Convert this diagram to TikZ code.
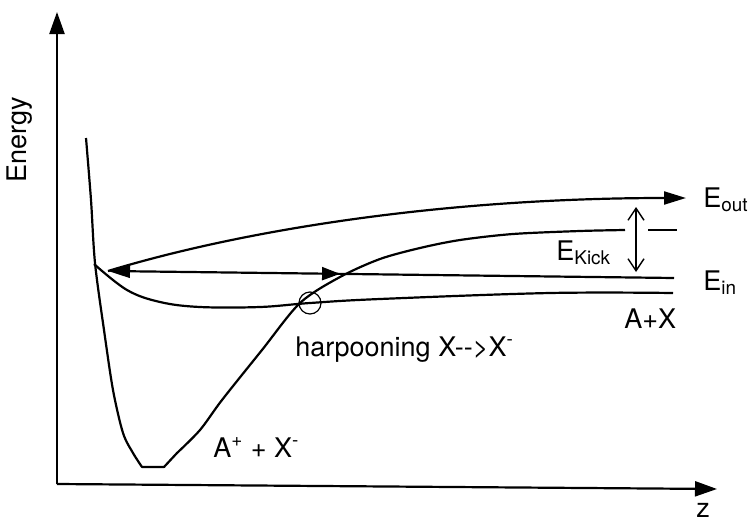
\documentclass[tikz,border=0pt]{standalone}
\usepackage{fontspec}
\setmainfont{TeX Gyre Heros}
\usetikzlibrary{arrows.meta,decorations.markings}

\begin{document}
\begin{tikzpicture}[
    x=0.5pt, y=-0.5pt,
    curve/.style={line width=1.1pt, line join=round},
    axis/.style={line width=1.1pt, -{Triangle[length=11pt,width=7.5pt]}},
    bighead/.style={-{Triangle[length=11pt,width=6.5pt]}},
    kick/.style={line width=0.7pt, {Straight Barb[length=6pt,width=8pt]}-{Straight Barb[length=6pt,width=8pt]}},
    midhead/.style={postaction={decorate}, decoration={markings,
        mark=at position #1 with {\arrow{Triangle[length=9pt,width=6.5pt]}}}},
    lbl/.style={font=\fontsize{13.5}{16}\selectfont, inner sep=0pt}
]
\useasboundingbox (0,0) rectangle (750,520);

% axes
\coordinate (origin) at (57,484);
\coordinate (ytip) at (57,12);
\coordinate (xtip) at (717,489);
\draw[axis] (origin) -- (ytip);
\draw[axis] (origin) -- (xtip);
\node[lbl, rotate=90] (energy) at (20,140) {Energy};
\node[lbl] (zlabel) at (703,510) {z};

% ionic curve A+ + X-
\draw[curve] plot[smooth, tension=0.5] coordinates {(86,138) (91,200) (95,263) (104,330) (113,390) (123,433) (133,453) (142,467)}
    -- (164,467)
    -- plot[smooth, tension=0.5] coordinates {(177,453) (200,430) (222,400) (262,350) (300,303) (340,277) (380,259) (420,248) (460,240) (513,234) (580,231) (625,230)};
\draw[curve] (648,230) -- (677,230);

% covalent curve A+X
\draw[curve] plot[smooth, tension=0.6] coordinates {(94,264) (127,290) (160,302) (200,307) (260,307) (310,303) (380,299) (550,293) (673,293)};

% trajectory
\coordinate (turn) at (108,271);
\coordinate (ein) at (674,278);
\coordinate (eout) at (686,198);
\draw[curve, {Triangle[length=11pt,width=6.5pt]}-, midhead=0.41] (turn) -- (ein);
\draw[curve, bighead] (turn) .. controls (250,228) and (450,198) .. (eout);

% kick
\coordinate (ktop) at (636,207);
\coordinate (kbot) at (636,272);
\draw[kick] (ktop) -- (kbot);

\node[draw, circle, minimum size=11pt, inner sep=0pt, line width=0.6pt] (cross) at (310,303) {};

% labels
\node[lbl, anchor=base west] (eoutlbl) at (703,207) {E\textsubscript{out}};
\node[lbl, anchor=base west] (einlbl) at (703,290) {E\textsubscript{in}};
\node[lbl, anchor=base west] (kicklbl) at (556,260) {E\textsubscript{Kick}};
\node[lbl, anchor=base west] (harplbl) at (295,356) {harpooning X-{}->X\textsuperscript{-}};
\node[lbl, anchor=base west] (ionlbl) at (213,457) {A\textsuperscript{+} + X\textsuperscript{-}};
\node[lbl, anchor=base west] (covlbl) at (624,328) {A+X};
\end{tikzpicture}
\end{document}
